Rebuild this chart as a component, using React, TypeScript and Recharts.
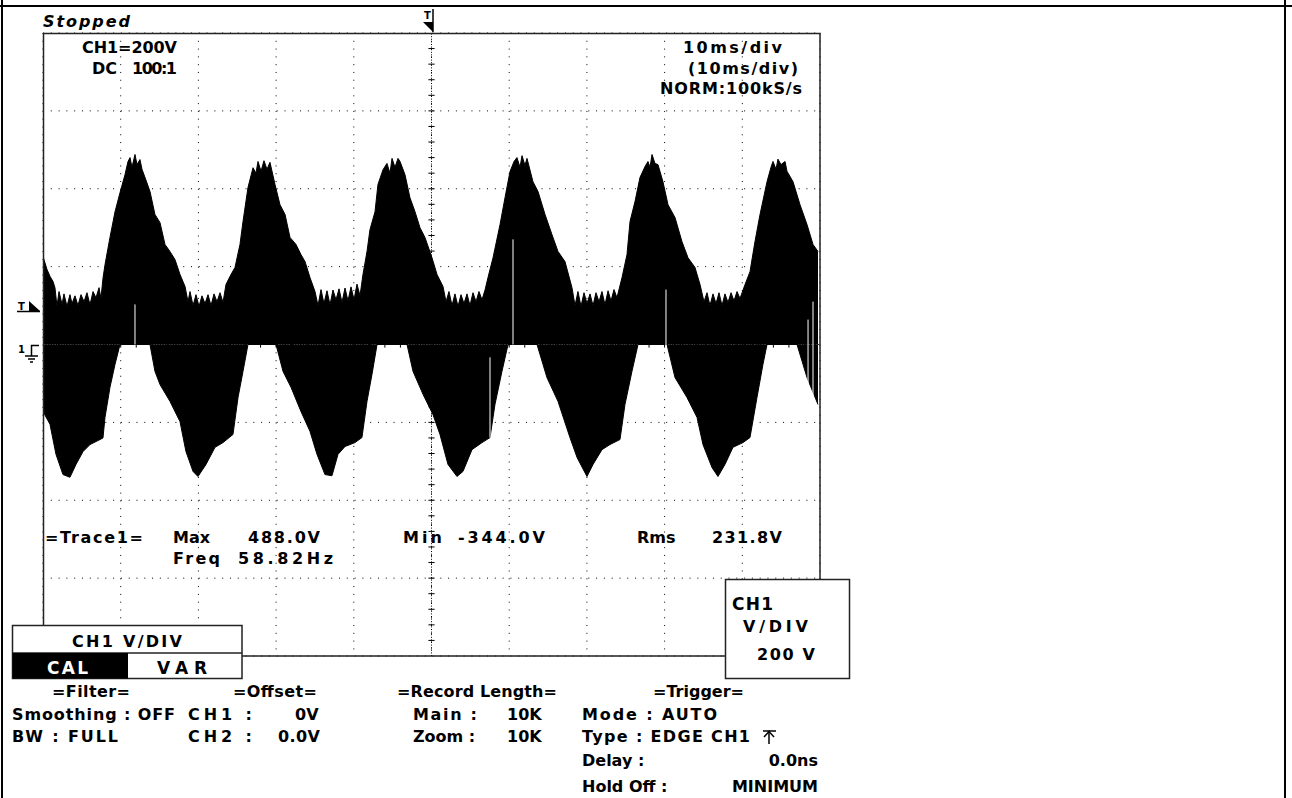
import React from 'react';
import { ComposedChart, Area, XAxis, YAxis, CartesianGrid, ReferenceLine } from 'recharts';

// ---- waveform envelope (time in ms, voltage in V) ----
const upperTime = [
  0.0, 0.51, 0.9, 1.29, 1.54, 1.8, 2.06, 2.45, 2.7, 3.09, 3.47, 3.73, 4.12, 4.5, 4.89, 5.28, 5.66, 6.05, 6.44, 6.82,
  7.21, 7.46, 7.72, 7.98, 8.62, 9.27, 9.91, 10.55, 10.94, 11.2, 11.45, 11.84, 12.1, 12.48, 12.74, 13.13, 13.77, 14.41,
  15.06, 15.7, 16.34, 16.99, 17.63, 18.28, 18.66, 18.92, 19.31, 19.69, 20.08, 20.46, 20.85, 21.24, 21.62, 22.01, 22.39,
  22.78, 23.17, 23.55, 24.07, 24.71, 25.35, 25.74, 26.38, 27.03, 27.41, 27.67, 28.06, 28.44, 28.83, 29.21, 29.86, 30.5,
  31.15, 31.79, 32.56, 33.2, 33.72, 34.36, 35.01, 35.39, 35.78, 36.16, 36.55, 36.94, 37.32, 37.71, 38.1, 38.48, 38.87,
  39.25, 39.64, 40.03, 40.41, 40.8, 41.18, 41.7, 42.08, 42.73, 43.11, 43.76, 44.27, 44.66, 44.92, 45.3, 45.69, 45.95,
  46.59, 47.23, 47.88, 48.52, 49.16, 50.06, 50.71, 51.48, 51.87, 52.25, 52.64, 53.02, 53.41, 53.8, 54.18, 54.57, 54.95,
  55.34, 55.73, 56.11, 56.5, 56.89, 57.27, 57.92, 58.82, 59.46, 60.1, 60.62, 61.0, 61.39, 61.65, 62.03, 62.29, 63.06,
  63.71, 64.61, 65.51, 66.28, 67.18, 68.08, 68.47, 68.85, 69.24, 69.63, 70.01, 70.4, 70.79, 71.17, 71.56, 71.94, 72.33,
  72.72, 73.1, 73.49, 73.87, 74.52, 75.16, 75.55, 76.19, 76.83, 77.48, 77.86, 78.12, 78.38, 78.76, 79.15, 79.79, 80.44,
  81.34, 82.24, 83.01, 83.91, 84.56, 85.07, 85.46, 85.84, 86.23, 86.62, 87.0, 87.39, 87.77, 88.16, 88.55, 88.93, 89.32,
  89.7, 90.35, 90.99, 91.63, 92.28, 93.18, 93.69, 93.95, 94.34, 94.59, 94.98, 95.5, 95.75, 96.53, 97.43, 98.33, 99.1, 99.74,
];
const upperVolts = [
  226, 193, 175, 162, 146, 98, 136, 103, 130, 98, 128, 105, 125, 100, 128, 110, 133, 102, 136, 120,
  146, 118, 170, 205, 275, 341, 390, 436, 470, 480, 455, 488, 462, 475, 450, 429, 393, 334,
  313, 257, 239, 218, 180, 149, 110, 136, 100, 128, 98, 125, 105, 128, 100, 130, 110,
  133, 108, 154, 175, 198, 257, 316, 403, 454, 440, 470, 445, 472, 450, 468, 411, 359,
  334, 275, 257, 231, 213, 172, 136, 100, 141, 105, 138, 102, 140, 115, 143, 108, 145,
  112, 148, 115, 155, 125, 180, 239, 295, 341, 411, 449, 465, 440, 478, 455, 478, 470,
  436, 377, 341, 300, 275, 223, 180, 149, 110, 136, 100, 130, 98, 128, 105, 130, 100,
  133, 110, 136, 115, 140, 172, 223, 308, 377, 444, 470, 480, 455, 485, 460, 478, 418,
  393, 334, 282, 239, 213, 146, 100, 136, 98, 133, 105, 130, 100, 133, 110, 136, 102,
  138, 112, 141, 120, 172, 231, 316, 367, 429, 457, 470, 455, 488, 465, 462, 418, 359,
  326, 264, 223, 198, 154, 110, 133, 100, 130, 105, 133, 100, 130, 108, 133, 112, 136,
  118, 154, 187, 264, 334, 418, 455, 470, 450, 476, 462, 470, 445, 418, 359, 308, 257, 239,
];
const lowerTime = [
  0.0, 0.9, 1.67, 2.57, 3.47, 4.25, 5.15, 6.05, 7.34, 7.72, 7.98, 8.62, 9.27, 9.91, 13.77, 14.41, 15.06, 16.34, 17.63,
  18.4, 19.31, 19.95, 20.98, 22.14, 23.17, 24.45, 25.1, 25.74, 26.38, 29.99, 30.89, 31.92, 33.2, 34.36, 35.26, 36.29,
  37.19, 37.97, 38.87, 40.15, 41.05, 41.7, 42.34, 42.99, 46.85, 47.62, 48.91, 50.19, 51.09, 52.12, 53.28, 54.05, 55.21,
  56.5, 57.53, 58.17, 59.07, 59.85, 63.58, 64.86, 66.28, 67.82, 68.73, 70.01, 70.79, 71.94, 72.97, 74.26, 74.9, 75.8,
  76.58, 80.31, 81.34, 82.88, 84.17, 84.94, 86.1, 86.87, 87.77, 88.8, 90.09, 90.99, 91.89, 92.66, 93.18, 97.04, 98.33, 99.74,
];
const lowerVolts = [
  -172, -205, -282, -334, -341, -308, -275, -257, -244, -240, -187, -110, -51, 0, 0, -69, -103, -146, -198,
  -275, -326, -339, -308, -264, -252, -231, -136, -69, 0, 0, -69, -110, -172, -223, -282, -334,
  -337, -282, -262, -252, -239, -146, -77, 0, 0, -69, -128, -180, -231, -308, -339, -326, -270,
  -252, -239, -154, -69, 0, 0, -85, -146, -239, -290, -339, -308, -270, -257, -244, -154, -69,
  0, 0, -85, -136, -187, -257, -316, -339, -308, -264, -252, -239, -136, -51, 0, 0, -85, -154,
];
// thin white dropouts inside the trace
const glitchTime = [11.84, 57.53, 60.49, 80.18, 98.46, 99.1];
const glitchFrom = [103, -33, 270, 141, 64, 110];
const glitchTo = [0, -239, 0, -33, -103, -136];

// ---- graticule ----
const timeTicks = [0, 10, 20, 30, 40, 50, 60, 70, 80, 90, 100];
const voltTicks = [-800, -600, -400, -200, 0, 200, 400, 600, 800];
const minorVolts = [-760, -720, -680, -640, -600, -560, -520, -480, -440, -400, -360, -320, -280, -240, -200, -160, -120, -80, -40, 40, 80, 120, 160, 200, 240, 280, 320, 360, 400, 440, 480, 520, 560, 600, 640, 680, 720, 760];
const minorTimes = [2, 4, 6, 8, 10, 12, 14, 16, 18, 20, 22, 24, 26, 28, 30, 32, 34, 36, 38, 40, 42, 44, 46, 48, 52, 54, 56, 58, 60, 62, 64, 66, 68, 70, 72, 74, 76, 78, 80, 82, 84, 86, 88, 90, 92, 94, 96, 98];

type Pt = { t: number; hi?: number | null; lo?: number | null };
const buildData = (): Pt[] => {
  const m = new Map<number, Pt>();
  upperTime.forEach((t, i) => {
    const p = m.get(t) || { t, hi: null, lo: null };
    p.hi = upperVolts[i];
    m.set(t, p);
  });
  lowerTime.forEach((t, i) => {
    const p = m.get(t) || { t, hi: null, lo: null };
    p.lo = lowerVolts[i];
    m.set(t, p);
  });
  return Array.from(m.values()).sort((a, b) => a.t - b.t);
};
const data = buildData();

const FONT = '"DejaVu Sans", Verdana, sans-serif';

const Txt = ({ x, y, w, children, fill = '#000', italic = false, size = 16, anchor = 'start' }: any) => (
  <text
    x={x}
    y={y}
    textLength={w}
    lengthAdjust={w ? 'spacing' : undefined}
    fontFamily={FONT}
    fontWeight="bold"
    fontSize={size}
    fill={fill}
    textAnchor={anchor}
    fontStyle={italic ? 'italic' : 'normal'}
    style={{ whiteSpace: 'pre' }}
  >
    {children}
  </text>
);

export default function App() {
  return (
    <div style={{ position: 'absolute', left: 0, top: 0, width: 1292, height: 798, background: '#fff', overflow: 'hidden' }}>
      <div style={{ position: 'absolute', left: 0, top: 0 }}>
        <ComposedChart width={1292} height={798} data={data} margin={{ top: 33, left: 43, right: 472, bottom: 142 }}>
          <XAxis type="number" dataKey="t" domain={[0, 100]} ticks={timeTicks} hide allowDataOverflow />
          <YAxis type="number" domain={[-800, 800]} ticks={voltTicks} hide allowDataOverflow />
          <CartesianGrid stroke="#000" strokeWidth={1} strokeDasharray="1 6.79" />
          <ReferenceLine x={50} stroke="#000" strokeDasharray="1 1.6" />
          <ReferenceLine y={0} stroke="#000" strokeDasharray="1 1.6" />
          {minorVolts.map((v) => (
            <ReferenceLine key={'mv' + v} segment={[{ x: 49.6, y: v }, { x: 50.4, y: v }]} stroke="#000" />
          ))}
          {minorTimes.map((t) => (
            <ReferenceLine key={'mt' + t} segment={[{ x: t, y: -8 }, { x: t, y: 8 }]} stroke="#000" />
          ))}
          <Area
            dataKey="hi"
            type="linear"
            baseValue={0}
            stroke="#000"
            strokeWidth={1}
            fill="#000"
            fillOpacity={1}
            connectNulls
            dot={false}
            activeDot={false}
            isAnimationActive={false}
          />
          <Area
            dataKey="lo"
            type="linear"
            baseValue={0}
            stroke="#000"
            strokeWidth={1}
            fill="#000"
            fillOpacity={1}
            connectNulls
            dot={false}
            activeDot={false}
            isAnimationActive={false}
          />
          {glitchTime.map((t, i) => (
            <ReferenceLine key={'g' + i} segment={[{ x: t, y: glitchFrom[i] }, { x: t, y: glitchTo[i] }]} stroke="#fff" strokeWidth={1} />
          ))}
        </ComposedChart>
      </div>
      <svg width={1292} height={798} style={{ position: 'absolute', left: 0, top: 0, pointerEvents: 'none' }}>
        {/* outer frame */}
        <line x1={0} y1={6} x2={1292} y2={6} stroke="#000" strokeWidth={2} />
        <line x1={2} y1={0} x2={2} y2={798} stroke="#000" strokeWidth={2} />
        <line x1={1285} y1={0} x2={1285} y2={798} stroke="#000" strokeWidth={2} />
        {/* plot border */}
        <rect x={43.5} y={33.5} width={776.5} height={622.5} fill="none" stroke="#222" strokeWidth={1.5} />

        {/* header */}
        <Txt x={43} y={27} w={87} italic>Stopped</Txt>
        <text x={424} y={19} fontFamily={FONT} fontWeight="bold" fontSize={10}>T</text>
        <line x1={433} y1={9} x2={433} y2={32} stroke="#000" strokeWidth={1.5} />
        <polygon points="423,22 433,22 433,32" fill="#000" />

        {/* left markers */}
        <text x={18} y={310} fontFamily={FONT} fontWeight="bold" fontSize={10}>T</text>
        <line x1={17} y1={311.5} x2={40} y2={311.5} stroke="#000" strokeWidth={1.5} />
        <polygon points="29,301 29,311 40,311" fill="#000" />
        <text x={18} y={353} fontFamily={FONT} fontWeight="bold" fontSize={10}>1</text>
        <polyline points="31.5,356 31.5,345.5 39,345.5" fill="none" stroke="#000" strokeWidth={1.5} />
        <line x1={25} y1={356} x2={38} y2={356} stroke="#000" strokeWidth={1.5} />
        <line x1={28} y1={359} x2={35} y2={359} stroke="#000" strokeWidth={1.5} />
        <line x1={30} y1={362} x2={33} y2={362} stroke="#000" strokeWidth={1.5} />

        {/* top-left / top-right info */}
        <Txt x={82} y={53} w={95}>CH1=200V</Txt>
        <Txt x={92} y={74}>DC</Txt>
        <Txt x={132} y={74} w={45}>100:1</Txt>
        <Txt x={683} y={53} w={99}>10ms/div</Txt>
        <Txt x={688} y={74} w={110}>(10ms/div)</Txt>
        <Txt x={660} y={94} w={142}>NORM:100kS/s</Txt>

        {/* measurements */}
        <Txt x={45} y={543} w={98}>=Trace1=</Txt>
        <Txt x={173} y={543}>Max</Txt>
        <Txt x={248} y={543} w={72}>488.0V</Txt>
        <Txt x={403} y={543} w={39}>Min</Txt>
        <Txt x={458} y={543} w={87}>-344.0V</Txt>
        <Txt x={637} y={543}>Rms</Txt>
        <Txt x={712} y={543} w={70}>231.8V</Txt>
        <Txt x={173} y={564} w={47}>Freq</Txt>
        <Txt x={238} y={564} w={95}>58.82Hz</Txt>

        {/* CH1 V/DIV menu box */}
        <rect x={12.5} y={625.5} width={229.5} height={53} fill="#fff" stroke="#222" strokeWidth={1.5} />
        <line x1={12} y1={653} x2={242} y2={653} stroke="#222" strokeWidth={1.5} />
        <rect x={12.5} y={653} width={115.5} height={25.5} fill="#000" />
        <Txt x={72} y={647} w={110}>CH1 V/DIV</Txt>
        <Txt x={47} y={674} w={41} fill="#fff" size={17}>CAL</Txt>
        <Txt x={157} y={674} w={50} size={17}>VAR</Txt>

        {/* CH1 popup box */}
        <rect x={725.5} y={579.5} width={124} height={99} fill="#fff" stroke="#222" strokeWidth={1.5} />
        <Txt x={732} y={610} w={41} size={17}>CH1</Txt>
        <Txt x={743} y={632} w={65}>V/DIV</Txt>
        <Txt x={757} y={660} w={58}>200 V</Txt>

        {/* bottom settings */}
        <Txt x={52} y={697} w={78}>=Filter=</Txt>
        <Txt x={233} y={697} w={84}>=Offset=</Txt>
        <Txt x={397} y={697} w={160}>=Record Length=</Txt>
        <Txt x={653} y={697}>=Trigger=</Txt>

        <Txt x={12} y={720} w={163}>Smoothing : OFF</Txt>
        <Txt x={188} y={720} w={64}>CH1 :</Txt>
        <Txt x={295} y={720}>0V</Txt>
        <Txt x={413} y={720} w={64}>Main :</Txt>
        <Txt x={507} y={720}>10K</Txt>
        <Txt x={582} y={720} w={135}>Mode : AUTO</Txt>

        <Txt x={12} y={742} w={106}>BW : FULL</Txt>
        <Txt x={188} y={742} w={64}>CH2 :</Txt>
        <Txt x={278} y={742} w={42}>0.0V</Txt>
        <Txt x={413} y={742}>Zoom :</Txt>
        <Txt x={507} y={742}>10K</Txt>
        <Txt x={582} y={742} w={168}>Type : EDGE CH1</Txt>
        <polyline points="763,731 769,731 769,744" fill="none" stroke="#000" strokeWidth={1.5} />
        <polyline points="764,737 769,731.5 774,737" fill="none" stroke="#000" strokeWidth={1.5} />
        <line x1={769} y1={731} x2={776} y2={731} stroke="#000" strokeWidth={1.5} />

        <Txt x={582} y={766}>Delay :</Txt>
        <Txt x={818} y={766} anchor="end">0.0ns</Txt>
        <Txt x={582} y={792}>Hold Off :</Txt>
        <Txt x={818} y={792} anchor="end">MINIMUM</Txt>
      </svg>
    </div>
  );
}
